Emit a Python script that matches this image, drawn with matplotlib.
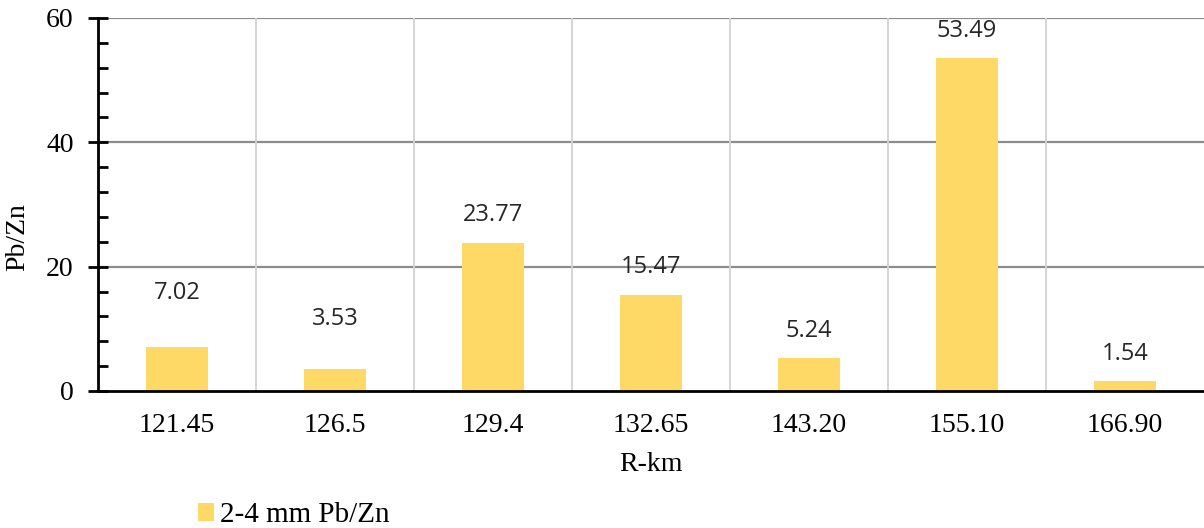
import numpy as np
import matplotlib.pyplot as plt
from matplotlib.ticker import MultipleLocator

# data
categories = ["121.45", "126.5", "129.4", "132.65", "143.20", "155.10", "166.90"]
pb_zn = [7.02, 3.53, 23.77, 15.47, 5.24, 53.49, 1.54]
series_name = "2-4 mm Pb/Zn"

# extra lift (pt) for the labels that were dragged up in the original
label_lift = [19, 16, 0, 0, 0, 0, 0]

bar_color = "#FED966"
serif = ["Liberation Serif", "DejaVu Serif"]

fig = plt.figure(figsize=(12.04, 5.28), dpi=100)
ax = fig.add_axes([0.0814, 0.2595, 0.9186, 0.7065])

x = np.arange(len(categories))
ax.bar(x, pb_zn, width=0.39, color=bar_color, label=series_name, zorder=3)

# value labels above each bar
for xi, v, lift in zip(x, pb_zn, label_lift):
    ax.annotate(f"{v:.2f}", (xi, v), xytext=(0, 20 + lift), textcoords="offset points",
                ha="center", va="center", fontsize=17, family="Open Sans", color="#262626")

ax.set_xlim(-0.5, len(categories) - 0.5)
ax.set_ylim(0, 60)

# grid: dark horizontal lines at majors, light vertical lines between categories
for yv in [20, 40, 60]:
    ax.axhline(yv, color="#8c8c8c", lw=1.6, zorder=1)
for b in np.arange(0.5, len(categories) - 0.5, 1):
    ax.axvline(b, color="#d3d3d3", lw=1.3, zorder=1)

ax.set_xticks(x)
ax.set_xticklabels(categories, family=serif, fontsize=20)
ax.tick_params(axis="x", length=0, pad=16)

ax.yaxis.set_major_locator(MultipleLocator(20))
ax.yaxis.set_minor_locator(MultipleLocator(4))
ax.tick_params(axis="y", which="major", direction="inout", length=15, width=2, labelsize=20, pad=10)
ax.tick_params(axis="y", which="minor", direction="in", length=7, width=2)
for lab in ax.get_yticklabels():
    lab.set_family(serif)

for s in ["top", "right"]:
    ax.spines[s].set_visible(False)
ax.spines["left"].set_linewidth(2)
ax.spines["bottom"].set_linewidth(2)
ax.spines["left"].set_zorder(4)
ax.spines["bottom"].set_zorder(4)

ax.set_xlabel("R-km", family=serif, fontsize=20, labelpad=10)
ax.set_ylabel("Pb/Zn", family=serif, fontsize=20)
ax.yaxis.set_label_coords(-0.061, 0.413)

fig.legend(loc="lower left", bbox_to_anchor=(0.143, -0.05), frameon=False,
           prop={"family": serif, "size": 21}, handlelength=0.55, handleheight=0.55,
           handletextpad=0.2)

fig.savefig("out.png", dpi=100)
